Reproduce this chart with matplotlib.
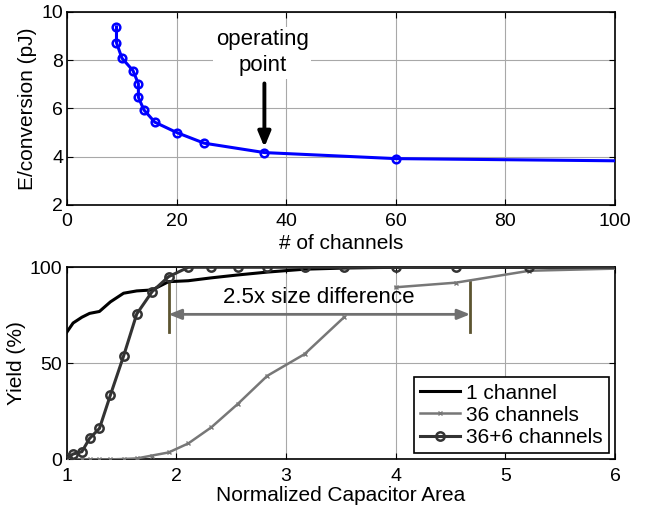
import numpy as np
import matplotlib
matplotlib.use("Agg")
import matplotlib.pyplot as plt

plt.rcParams["font.family"] = ["Liberation Sans", "DejaVu Sans"]
plt.rcParams["font.size"] = 15

# top panel: energy per conversion vs number of channels
channels = [9, 9, 10, 12, 13, 13, 14, 16, 20, 25, 36, 60, 100]
energy = [9.38, 8.72, 8.08, 7.57, 7.02, 6.46, 5.94, 5.43, 5.0, 4.56, 4.17, 3.92, 3.83]
energy_markers = [True] * 12 + [False]

# bottom panel: yield vs normalized capacitor area
area = [1.0, 1.06, 1.14, 1.21, 1.30, 1.40, 1.52, 1.64, 1.78, 1.93,
        2.11, 2.32, 2.56, 2.83, 3.17, 3.53, 4.0, 4.55, 5.22, 6.0]
yield_1 = [66, 71, 74, 76, 77, 82, 86.5, 87.7, 88.2, 92.5,
           93, 94.5, 96, 97.5, 99, 99.6, 100, 100, 100, 100]
yield_36 = [0, 0, 0, 0, 0, 0, 0.2, 0.5, 2, 3.6,
            8.3, 16.7, 28.8, 43.5, 54.8, 74, np.nan, np.nan, np.nan, np.nan]
yield_36_hi_x = [4.0, 4.55, 5.22, 6.0]
yield_36_hi = [89.6, 92, 98.2, 99.3]
yield_42 = [0.5, 2.8, 4, 10.9, 16.1, 33.5, 53.8, 75.7, 87.3, 95.1,
            100, 100, 100, 100, 100, 100, 100, 100, 100, 100]
yield_42_markers = list(range(19))

fig = plt.figure(figsize=(6.46, 5.15), dpi=100)
ax1 = fig.add_axes([0.104, 0.602, 0.848, 0.375])
ax2 = fig.add_axes([0.103, 0.108, 0.849, 0.373])

grid_kw = dict(color="#a8a8a8", linestyle="-", linewidth=0.8)

# --- top ---
ax1.plot(channels, energy, color="#0000ff", linewidth=2.2, marker="o",
         markersize=5.5, markerfacecolor="none", markeredgewidth=1.8,
         markevery=energy_markers, zorder=3)
ax1.set_xlim(0, 100)
ax1.set_ylim(2, 10)
ax1.set_xticks([0, 20, 40, 60, 80, 100])
ax1.set_yticks([2, 4, 6, 8, 10])
ax1.set_xlabel("# of channels", labelpad=3)
ax1.set_ylabel("E/conversion (pJ)", labelpad=3)
ax1.grid(True, **grid_kw)
ax1.annotate("", xy=(36, 4.28), xytext=(36, 7.15),
             arrowprops=dict(arrowstyle="-|>,head_length=0.6,head_width=0.25",
                             color="black", linewidth=2.8), zorder=4)
ax1.text(35.6, 8.3, "operating\npoint", ha="center", va="center",
         fontsize=16, linespacing=1.3, zorder=5,
         bbox=dict(facecolor="white", edgecolor="none", pad=2))

# --- bottom ---
ax2.plot(area, yield_1, color="black", linewidth=2.2, label="1 channel", zorder=3)
ax2.plot(area, yield_36, color="#777777", linewidth=1.8, marker="x",
         markersize=3.5, markeredgewidth=1, label="36 channels", zorder=3)
ax2.plot(yield_36_hi_x, yield_36_hi, color="#777777", linewidth=1.8, marker="x",
         markersize=3.5, markeredgewidth=1, markevery=[0, 1, 2], zorder=3)
ax2.plot(area, yield_42, color="#333333", linewidth=2.2, marker="o",
         markersize=6, markerfacecolor="none", markeredgewidth=1.8,
         markevery=yield_42_markers, label="36+6 channels", zorder=4)

ax2.plot([1.93, 1.93], [66.5, 93], color="#5c5430", linewidth=2, zorder=2)
ax2.plot([4.68, 4.68], [66.5, 92.5], color="#5c5430", linewidth=2, zorder=2)
ax2.annotate("", xy=(1.93, 75.5), xytext=(4.68, 75.5),
             arrowprops=dict(arrowstyle="<|-|>,head_length=0.5,head_width=0.2",
                             color="#707070", linewidth=2, shrinkA=0, shrinkB=0))
ax2.text(3.3, 84.5, "2.5x size difference", ha="center", va="center", fontsize=16)

ax2.set_xlim(1, 6)
ax2.set_ylim(0, 100)
ax2.set_xticks([1, 2, 3, 4, 5, 6])
ax2.set_yticks([0, 50, 100])
ax2.set_xlabel("Normalized Capacitor Area", labelpad=1)
ax2.set_ylabel("Yield (%)", labelpad=3)
ax2.grid(True, **grid_kw)
leg = ax2.legend(loc="lower right", fancybox=False, edgecolor="black",
                 framealpha=1, borderpad=0.3, labelspacing=0.15,
                 handlelength=1.9, handletextpad=0.3, borderaxespad=0.3)
leg.get_frame().set_linewidth(1.2)

for ax in (ax1, ax2):
    ax.set_axisbelow(True)
    ax.tick_params(direction="in", top=True, right=True, length=4,
                   labelsize=14)
    ax.tick_params(axis="x", pad=6)
    ax.tick_params(axis="y", pad=3)
    for s in ax.spines.values():
        s.set_linewidth(1.2)

fig.savefig("out.png", dpi=100)
